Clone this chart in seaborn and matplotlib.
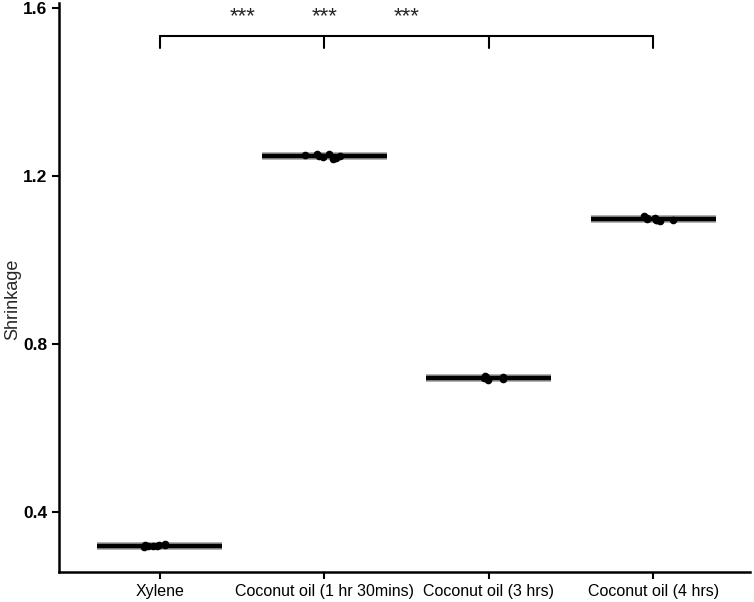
import matplotlib
matplotlib.use("Agg")
import matplotlib.pyplot as plt
import pandas as pd
import seaborn as sns

groups = ["Xylene", "Coconut oil (1 hr 30mins)", "Coconut oil (3 hrs)", "Coconut oil (4 hrs)"]
xylene = [0.322, 0.318, 0.321, 0.324, 0.319, 0.317, 0.320, 0.318]
coco_90 = [1.252, 1.240, 1.247, 1.244, 1.250, 1.246, 1.248, 1.252]
coco_3h = [0.724, 0.716, 0.719, 0.714, 0.721, 0.718, 0.722, 0.717]
coco_4h = [1.100, 1.092, 1.104, 1.096, 1.101, 1.094, 1.097, 1.095]
star_pos = [0.5, 1.0, 1.5]
star_text = "***"

df = pd.DataFrame({
    "group": [groups[0]] * len(xylene) + [groups[1]] * len(coco_90)
             + [groups[2]] * len(coco_3h) + [groups[3]] * len(coco_4h),
    "Shrinkage": xylene + coco_90 + coco_3h + coco_4h,
})

sns.set_style("ticks")
plt.rcParams["font.family"] = ["Liberation Sans", "DejaVu Sans"]

fig = plt.figure(figsize=(7.54, 6.02), dpi=100)
ax = fig.add_axes([0.078, 0.05, 0.917, 0.945])

# 평균선 (회색 띠 + 검은 선)
means = df.groupby("group", sort=False)["Shrinkage"].mean()
for i, g in enumerate(groups):
    ax.hlines(means[g], i - 0.38, i + 0.38, color="#a0a0a0", lw=5.5, zorder=2)
    ax.hlines(means[g], i - 0.38, i + 0.38, color="black", lw=3.2, zorder=3)

sns.stripplot(data=df, x="group", y="Shrinkage", order=groups, color="black",
              size=5.5, jitter=0.13, ax=ax, zorder=4)

# 유의성 괄호
yb, yt = 1.505, 1.533
ax.plot([0, 3], [yt, yt], color="black", lw=1.5)
for i in range(4):
    ax.plot([i, i], [yb, yt], color="black", lw=1.5)
for x in star_pos:
    ax.text(x, 1.58, star_text, ha="center", va="center", fontsize=16)

ax.set_ylim(0.257, 1.612)
ax.set_xlim(-0.615, 3.59)
ax.set_yticks([0.4, 0.8, 1.2, 1.6])
ax.set_yticklabels(["0.4", "0.8", "1.2", "1.6"], fontsize=12.5, fontweight="bold")
ax.set_xticks(range(4))
ax.set_xticklabels(groups, fontsize=11.5)
ax.set_xlabel("")
ax.set_ylabel("Shrinkage", fontsize=13)
ax.yaxis.set_label_coords(-0.055, 0.48)
sns.despine(ax=ax)
for s in ["left", "bottom"]:
    ax.spines[s].set_linewidth(1.8)
    ax.spines[s].set_color("black")
ax.tick_params(width=1.5, length=5, colors="black")

fig.savefig("out.png", dpi=100)
